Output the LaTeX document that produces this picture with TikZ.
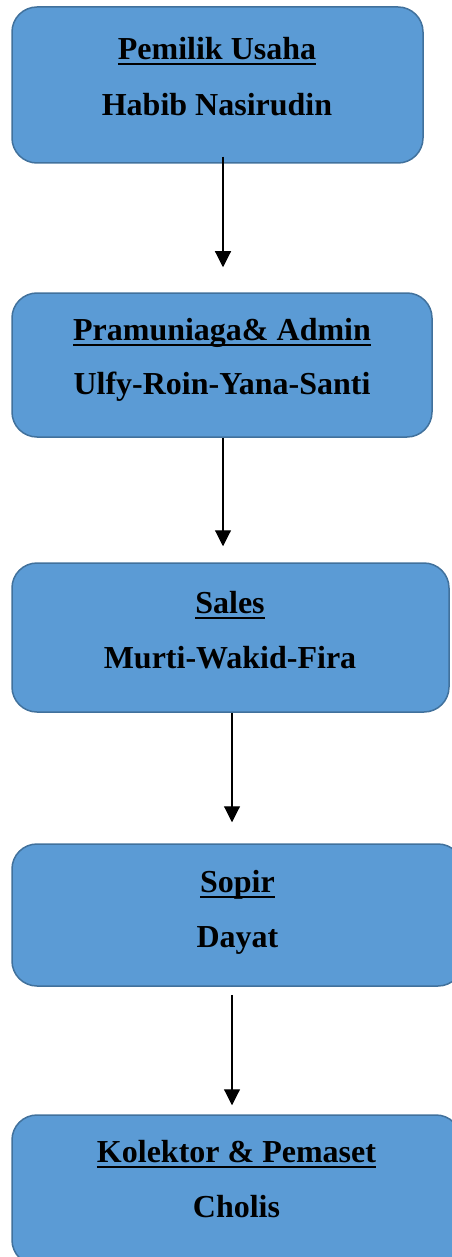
\documentclass[tikz,border=0pt]{standalone}
\usepackage{fontspec}
\setmainfont{Liberation Serif}
\usetikzlibrary{arrows.meta}
\definecolor{boxfill}{HTML}{5B9BD5}
\definecolor{boxline}{HTML}{41719C}
\newcommand\myul[1]{\setbox0\hbox{#1}\rlap{\rule[-5.5pt]{\wd0}{2pt}}\box0}
\tikzset{
  orgbox/.style={draw=boxline, fill=boxfill, line width=1.5pt, rounded corners=25pt, inner sep=0pt},
  lbl/.style={anchor=base, inner sep=0pt, font=\fontsize{32}{38}\selectfont\bfseries},
  arr/.style={line width=1.1pt, -{Triangle[width=16pt,length=16pt]}}
}
\begin{document}
\begin{tikzpicture}[x=1pt,y=-1pt]
\useasboundingbox (0,0) rectangle (451,1257);
\node[orgbox, minimum width=411pt, minimum height=156pt] (b1) at (217.5,85) {};
\node[orgbox, minimum width=420pt, minimum height=144pt] (b2) at (222,365) {};
\node[orgbox, minimum width=437pt, minimum height=149pt] (b3) at (230.5,637.5) {};
\node[orgbox, minimum width=451pt, minimum height=142pt] (b4) at (237.5,915) {};
\node[orgbox, minimum width=449pt, minimum height=150pt] (b5) at (236.5,1190) {};
\node[lbl] (t1) at (217,60) {\myul{Pemilik Usaha}};
\node[lbl] (n1) at (217,116) {Habib Nasirudin};
\node[lbl] (t2) at (222,340) {\myul{Pramuniaga\& Admin}};
\node[lbl] (n2) at (222,394) {Ulfy-Roin-Yana-Santi};
\node[lbl] (t3) at (230,613) {\myul{Sales}};
\node[lbl] (n3) at (230,668) {Murti-Wakid-Fira};
\node[lbl] (t4) at (237.5,892) {\myul{Sopir}};
\node[lbl] (n4) at (237.5,947) {Dayat};
\node[lbl] (t5) at (236.5,1162) {\myul{Kolektor \& Pemaset}};
\node[lbl] (n5) at (236.5,1217) {Cholis};
\draw[arr] ([xshift=5.5pt,yshift=7pt]b1.south) -- ([xshift=1pt,yshift=25pt]b2.north);
\draw[arr] ([xshift=1pt]b2.south) -- ([xshift=-7.5pt,yshift=16pt]b3.north);
\draw[arr] ([xshift=1.5pt]b3.south) -- ([xshift=-5.5pt,yshift=21pt]b4.north);
\draw[arr] ([xshift=-5.5pt,yshift=-8pt]b4.south) -- ([xshift=-4.5pt,yshift=9pt]b5.north);
\end{tikzpicture}
\end{document}
